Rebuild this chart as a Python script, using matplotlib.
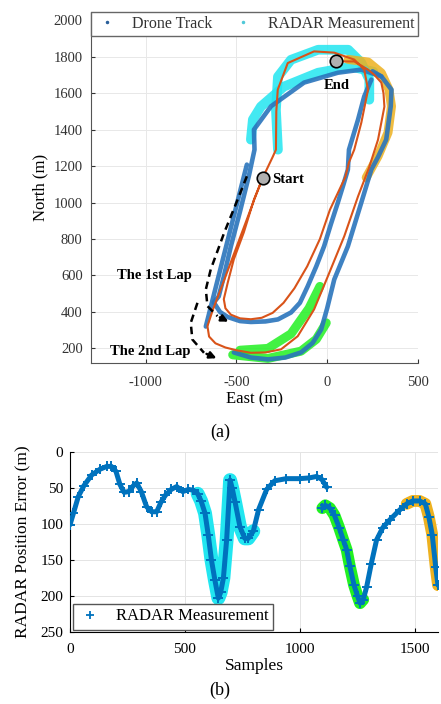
import numpy as np
import matplotlib
matplotlib.use("Agg")
import matplotlib.pyplot as plt
from matplotlib.lines import Line2D

plt.rcParams['font.family'] = ['Liberation Serif', 'DejaVu Serif']
plt.rcParams['axes.unicode_minus'] = False

# ---------------- (a) track data (East, North in m) ----------------
drone_east = [-354, -403, -459, -514, -547, -569, -560, -530, -480, -420, -360, -300, -240, -180,
              -110, -40, 15, 100, 120, 149, 188, 225, 204, 149, 39, -72, -217, -272, -280, -282,
              -300, -354, -400, -460, -520, -580, -630, -659, -650, -615, -560, -500, -420, -340,
              -254, -162, -72, 4, 94, 170, 230, 280, 315, 310, 298, 260, 225, 149, 50]
drone_north = [1137, 1016, 836, 688, 562, 470, 420, 385, 365, 360, 368, 395, 450, 530,
               650, 800, 960, 1140, 1220, 1290, 1438, 1619, 1729, 1784, 1822, 1829, 1765, 1619, 1500, 1290,
               1250, 1137, 1020, 860, 700, 540, 410, 322, 265, 228, 205, 190, 176, 178,
               195, 267, 414, 596, 815, 1034, 1190, 1345, 1526, 1600, 1658, 1700, 1729, 1774, 1774]

radar1_east = [298, 188, 59, -127, -309, -403, -400, -430, -480, -530, -569, -597, -624, -590, -547,
               -480, -420, -340, -271, -199, -150, -107, -60, -17, 20, 59, 90, 114, 120, 170, 204, 243]
radar1_north = [1692, 1729, 1712, 1658, 1528, 1400, 1290, 1150, 950, 760, 594, 485, 452, 400, 372,
                350, 345, 348, 359, 397, 450, 541, 650, 760, 880, 1000, 1100, 1181, 1290, 1455, 1582, 1674]

radar2_east = [-514, -420, -326, -230, -144, -80, -33, 0, 39, 114, 188, 243, 280, 325, 350, 354, 298, 250]
radar2_north = [178, 150, 140, 150, 178, 230, 304, 420, 578, 760, 1000, 1181, 1250, 1345, 1528, 1619, 1692, 1720]

radar3_east = [-442, -668]
radar3_north = [1208, 320]

cyan_arch_east = [-271, -282, -271, -199, -50, 116, 188, 232, 232]
cyan_arch_north = [1290, 1509, 1690, 1783, 1838, 1838, 1767, 1674, 1564]
cyan_diag_east = [-420, -409, -365, -238, -50, 133, 254]
cyan_diag_north = [1345, 1455, 1526, 1636, 1712, 1745, 1718]
yellow_east = [116, 226, 298, 340, 354, 335, 280, 215]
yellow_north = [1785, 1770, 1711, 1620, 1528, 1384, 1254, 1137]
green_up_east = [-40, -100, -199, -326, -480]
green_up_north = [540, 420, 280, 200, 190]
green_lo_east = [-5, -60, -144, -326, -520]
green_lo_north = [340, 250, 185, 145, 165]

arrow1_east = [-442, -493, -567, -641, -668, -659, -604, -530]
arrow1_north = [1144, 1016, 834, 633, 523, 432, 377, 340]
arrow2_east = [-714, -751, -742, -678, -595]
arrow2_north = [450, 340, 249, 176, 140]

start_pt = (-354, 1137)
end_pt = (50, 1774)

# ---------------- (b) error data ----------------
samples1 = [0, 15, 36, 60, 94, 130, 160, 180, 200, 217, 235, 255, 275, 290, 310, 333, 355, 377, 395,
            415, 440, 464, 490, 515, 536, 555, 570, 587, 601, 615, 630, 645, 655, 667, 681, 696, 705,
            718, 739, 760, 775, 797, 820, 855, 890, 940, 1000, 1040, 1072, 1095, 1116]
error1 = [101, 85, 62, 47, 32, 24, 20, 20, 27, 45, 56, 55, 47, 43, 55, 76, 83, 83, 70,
          60, 52, 48, 55, 52, 53, 58, 68, 85, 115, 150, 178, 203, 195, 175, 122, 39, 50,
          70, 104, 120, 120, 110, 80, 52, 40, 37, 37, 36, 34, 38, 49]
samples2 = [1097, 1110, 1130, 1150, 1170, 1188, 1203, 1217, 1235, 1250, 1261, 1275, 1290, 1310,
            1333, 1360, 1391, 1435, 1464, 1490, 1520, 1545, 1560, 1575, 1590, 1600]
error2 = [78, 74, 78, 88, 105, 122, 136, 159, 185, 200, 210, 205, 187, 155,
          122, 105, 94, 80, 72, 68, 68, 72, 90, 115, 160, 185]
cyan_range = (555, 797)
green_range = (1097, 1275)
orange_range = (1464, 1600)

BLUE = '#2a74bc'
ORANGE = '#d95319'
CYAN = '#22e6f0'
GREEN = '#22f022'
YELLOW = '#edb120'

fig = plt.figure(figsize=(4.41, 7.04), dpi=100)

# ---------------- top axes ----------------
ax = fig.add_axes([91/441, 1-363/704, 327/441, 351/704])
ax.set_xlim(-1300, 500)
ax.set_ylim(120, 2045)
ax.grid(True, color='#e8e8e8', lw=0.7)
ax.set_axisbelow(True)
for s in ['top', 'right']:
    ax.spines[s].set_visible(False)
for s in ['left', 'bottom']:
    ax.spines[s].set_color('#555555')
ax.set_xticks([-1000, -500, 0, 500])
ax.set_yticks(range(200, 2001, 200))
ax.tick_params(direction='in', length=3, labelsize=10.5, colors='#333333')
ax.tick_params(axis='x', pad=9)
ax.tick_params(axis='y', pad=6)

hl = dict(solid_capstyle='round', alpha=0.85, zorder=2)
ax.plot(cyan_arch_east, cyan_arch_north, color=CYAN, lw=7, **hl)
ax.plot(cyan_diag_east, cyan_diag_north, color=CYAN, lw=7, **hl)
ax.plot(yellow_east, yellow_north, color=YELLOW, lw=6.5, **hl)
ax.plot(green_up_east, green_up_north, color=GREEN, lw=6.5, **hl)
ax.plot(green_lo_east, green_lo_north, color=GREEN, lw=6.5, **hl)

bl = dict(color=BLUE, lw=3.3, solid_capstyle='round', zorder=3, alpha=0.9)
ax.plot(radar1_east, radar1_north, **bl)
ax.plot(radar2_east, radar2_north, **bl)
ax.plot(radar3_east, radar3_north, **bl)
ax.plot(drone_east, drone_north, color=ORANGE, lw=1.5, zorder=4)

ax.plot(arrow1_east[:-1], arrow1_north[:-1], color='k', ls=(0, (3, 2)), lw=1.8, zorder=5)
ax.annotate('', xy=(arrow1_east[-1], arrow1_north[-1]), xytext=(arrow1_east[-2], arrow1_north[-2]),
            arrowprops=dict(arrowstyle='-|>', color='k', lw=1.8, mutation_scale=10), zorder=5)
ax.plot(arrow2_east[:-1], arrow2_north[:-1], color='k', ls=(0, (3, 2)), lw=1.8, zorder=5)
ax.annotate('', xy=(arrow2_east[-1], arrow2_north[-1]), xytext=(arrow2_east[-2], arrow2_north[-2]),
            arrowprops=dict(arrowstyle='-|>', color='k', lw=1.8, mutation_scale=10), zorder=5)

ax.plot(*start_pt, 'o', ms=9, mfc='#b0b0b0', mec='k', mew=1.2, zorder=6)
ax.plot(*end_pt, 'o', ms=9, mfc='#b0b0b0', mec='k', mew=1.2, zorder=6)
ax.text(-300, 1126, 'Start', fontsize=10.5, fontweight='bold', va='center', ha='left', zorder=7)
ax.text(55, 1641, 'End', fontsize=10.5, fontweight='bold', va='center', ha='center', zorder=7)
ax.text(-950, 600, 'The 1st Lap', fontsize=10.5, fontweight='bold', va='center', ha='center', zorder=7)
ax.text(-975, 184, 'The 2nd Lap', fontsize=10.5, fontweight='bold', va='center', ha='center', zorder=7)

ax.set_xlabel('East (m)', fontsize=12, labelpad=2)
ax.set_ylabel('North (m)', fontsize=12, labelpad=4)

handles = [Line2D([], [], ls='none', marker='.', ms=3, color='#2a5f9a'),
           Line2D([], [], ls='none', marker='.', ms=3, color='#50c8d8')]
leg = ax.legend(handles, ['Drone Track', 'RADAR Measurement'], ncol=2, loc='upper left',
                bbox_to_anchor=(0, 1, 1, 0), mode='expand', borderaxespad=0, fontsize=11.5,
                fancybox=False, edgecolor='#666666', framealpha=1, handlelength=1.5,
                handletextpad=0.8, borderpad=0.25)
leg.get_frame().set_linewidth(1.0)
for t in leg.get_texts():
    t.set_color('#333333')

fig.text(220/441, 1-432/704, '(a)', fontsize=13, ha='center', va='center')

# ---------------- bottom axes ----------------
bx = fig.add_axes([70/441, 1-632/704, 368/441, 180/704])
bx.set_xlim(0, 1600)
bx.set_ylim(250, 0)
bx.grid(True, color='#e4e4e4', lw=0.7)
bx.set_axisbelow(True)
for s in ['top', 'right']:
    bx.spines[s].set_visible(False)
bx.set_xticks([0, 500, 1000, 1500])
bx.set_yticks([0, 50, 100, 150, 200, 250])
bx.tick_params(direction='in', length=3, labelsize=11)
bx.tick_params(axis='x', pad=8)
bx.tick_params(axis='y', pad=5)

s1 = np.array(samples1); e1 = np.array(error1)
s2 = np.array(samples2); e2 = np.array(error2)

def sel(s, e, r):
    m = (s >= r[0]) & (s <= r[1])
    return s[m], e[m]

hb = dict(solid_capstyle='round', solid_joinstyle='round', zorder=2)
bx.plot(*sel(s1, e1, cyan_range), color=CYAN, lw=10, **hb)
bx.plot(*sel(s2, e2, green_range), color=GREEN, lw=8.5, **hb)
bx.plot(*sel(s2, e2, orange_range), color=YELLOW, lw=8.5, **hb)

mk = dict(color='#0072bd', lw=3.6, marker='+', ms=7, mew=1.4, zorder=3,
          solid_joinstyle='round', solid_capstyle='round')
bx.plot(s1, e1, **mk)
bx.plot(s2, e2, **mk)

bx.set_xlabel('Samples', fontsize=12.5, labelpad=1)
bx.set_ylabel('RADAR Position Error (m)', fontsize=12.5, labelpad=6)
lh = [Line2D([], [], ls='none', marker='+', ms=6, mew=1.3, color='#0072bd')]
leg2 = bx.legend(lh, ['RADAR Measurement'], loc='lower left', borderaxespad=0.15, fontsize=12,
                 fancybox=False, edgecolor='#555555', framealpha=1, handlelength=1.5,
                 borderpad=0.3)
leg2.get_frame().set_linewidth(1.0)

fig.text(220/441, 1-690/704, '(b)', fontsize=13, ha='center', va='center')

fig.savefig('out.png', dpi=100)
